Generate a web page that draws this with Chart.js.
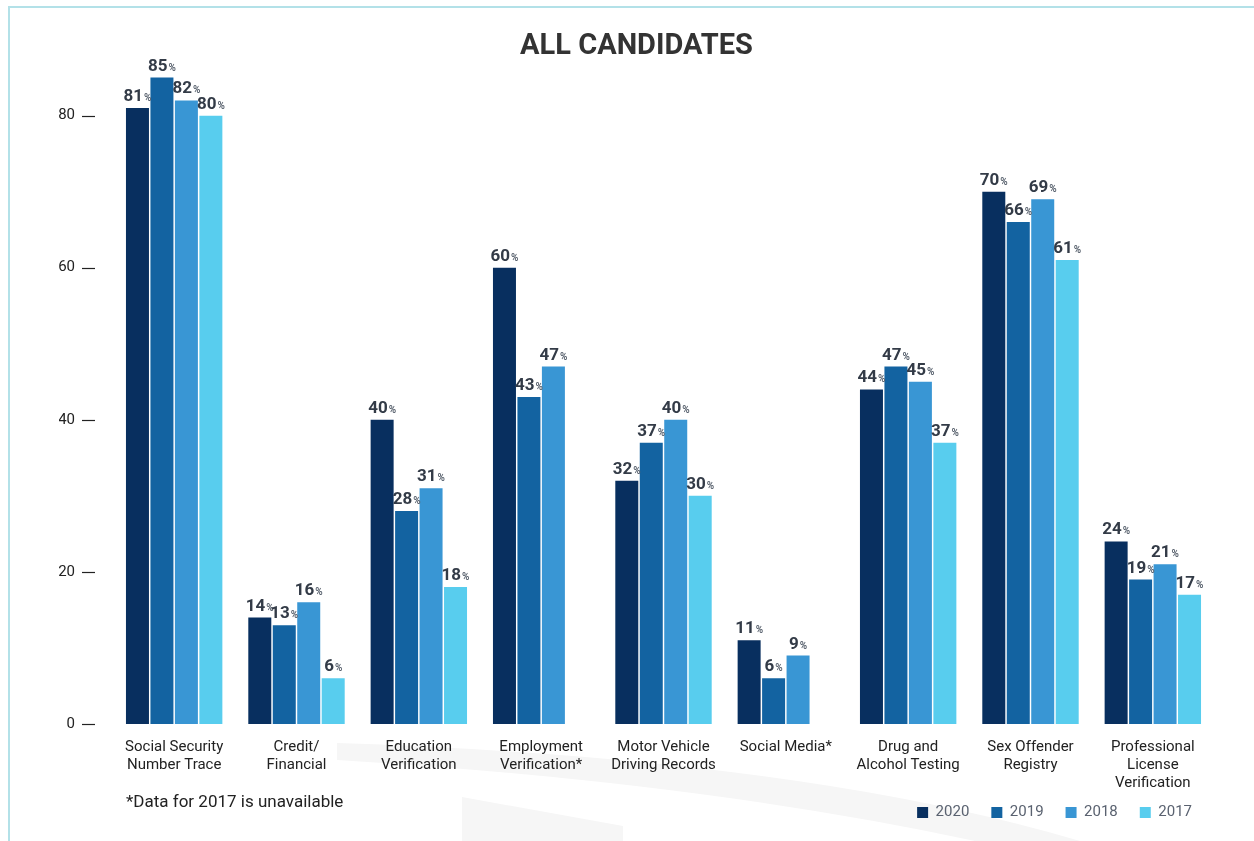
<!DOCTYPE html>
<html>
<head>
<meta charset="utf-8">
<script src="https://cdn.jsdelivr.net/npm/chart.js@4/dist/chart.umd.min.js"></script>
<style>
  html, body { margin: 0; padding: 0; background: #fff; }
  #frame {
    position: absolute; left: 8px; top: 6px; right: 0; bottom: 0;
    border-left: 2px solid #b3e1e8; border-top: 2px solid #b3e1e8;
  }
  #swoosh { position: absolute; left: 0; top: 0; }
  #wrap { position: absolute; left: 0; top: 0; width: 1254px; height: 841px; }
  #note {
    position: absolute; left: 126px; top: 791px;
    font: 17px Roboto, sans-serif; color: #222;
  }
</style>
</head>
<body>
<div id="frame"></div>
<svg id="swoosh" width="1254" height="841">
  <path d="M337,743 Q800,758 1080,841 L975,841 Q700,782 337,760 Z" fill="#f6f6f6"/>
  <path d="M462,797 L623,826 L623,841 L462,841 Z" fill="#f6f6f6"/>
</svg>
<div id="wrap"><canvas id="chartCanvas"></canvas></div>
<div id="note">*Data for 2017 is unavailable</div>
<script>
// values, in percent
const categories = [
  ['Social Security', 'Number Trace'],
  ['Credit/', 'Financial'],
  ['Education', 'Verification'],
  ['Employment', 'Verification*'],
  ['Motor Vehicle', 'Driving Records'],
  ['Social Media*'],
  ['Drug and', 'Alcohol Testing'],
  ['Sex Offender', 'Registry'],
  ['Professional', 'License', 'Verification']
];
const years = ['2020', '2019', '2018', '2017'];
const values2020 = [81, 14, 40, 60, 32, 11, 44, 70, 24];
const values2019 = [85, 13, 28, 43, 37, 6, 47, 66, 19];
const values2018 = [82, 16, 31, 47, 40, 9, 45, 69, 21];
const values2017 = [80, 6, 18, null, 30, null, 37, 61, 17];
const yTicks = [0, 20, 40, 60, 80];

const colors = ['#082f5f', '#1363a1', '#3996d4', '#58cdee'];

// number + small "%" above each bar
const barLabels = {
  id: 'barLabels',
  afterDatasetsDraw(chart) {
    const ctx = chart.ctx;
    ctx.save();
    ctx.textBaseline = 'alphabetic';
    ctx.textAlign = 'left';
    chart.data.datasets.forEach((ds, i) => {
      const meta = chart.getDatasetMeta(i);
      meta.data.forEach((bar, j) => {
        const v = ds.data[j];
        if (v === null || v === undefined) return;
        const num = String(v);
        ctx.font = 'bold 17px Roboto, sans-serif';
        const w1 = ctx.measureText(num).width;
        ctx.font = 'bold 10px Roboto, sans-serif';
        const w2 = ctx.measureText('%').width;
        const x0 = bar.x - (w1 + w2 + 1) / 2;
        const y = bar.y - 7;
        ctx.font = 'bold 17px Roboto, sans-serif';
        ctx.fillStyle = '#333b47';
        ctx.fillText(num, x0, y);
        ctx.font = 'bold 10px Roboto, sans-serif';
        ctx.fillStyle = '#5b6470';
        ctx.fillText('%', x0 + w1 + 1, y);
      });
    });
    ctx.restore();
  }
};

// short dashes to the right of the y tick labels
const yDashes = {
  id: 'yDashes',
  afterDraw(chart) {
    const y = chart.scales.y;
    const ctx = chart.ctx;
    ctx.save();
    ctx.strokeStyle = '#222';
    ctx.lineWidth = 1.2;
    y.ticks.forEach(t => {
      const py = Math.round(y.getPixelForValue(t.value)) + 0.5;
      ctx.beginPath();
      ctx.moveTo(y.right - 31, py);
      ctx.lineTo(y.right - 18, py);
      ctx.stroke();
    });
    ctx.restore();
  }
};

// the x axis box is kept short so the legend sits close; let its labels spill below it
const labelSpill = {
  id: 'labelSpill',
  afterLayout(chart) { chart.scales.x.bottom += 30; }
};

const ctx = document.getElementById('chartCanvas').getContext('2d');
const myChart = new Chart(ctx, {
  type: 'bar',
  data: {
    labels: categories,
    datasets: [values2020, values2019, values2018, values2017].map((d, i) => ({
      label: years[i],
      data: d,
      backgroundColor: colors[i],
      borderWidth: 0,
      categoryPercentage: 0.8,
      barPercentage: 0.94
    }))
  },
  options: {
    responsive: true,
    maintainAspectRatio: false,
    animation: false,
    layout: { padding: { left: 59, right: 40, top: 0, bottom: 11 } },
    plugins: {
      title: {
        display: true,
        text: 'ALL CANDIDATES',
        color: '#333',
        font: { family: 'Roboto', size: 29, weight: 'bold' },
        padding: { top: 29, bottom: 10 }
      },
      legend: {
        position: 'bottom',
        align: 'end',
        labels: {
          boxWidth: 11,
          boxHeight: 11,
          padding: 22,
          color: '#5a6270',
          font: { family: 'Roboto', size: 15 }
        }
      },
      tooltip: { enabled: false }
    },
    scales: {
      x: {
        afterFit: s => { s.height = 59; },
        grid: { display: false, drawTicks: false },
        border: { display: false },
        ticks: {
          color: '#222',
          padding: 14,
          maxRotation: 0,
          autoSkip: false,
          font: { family: 'Roboto', size: 15, lineHeight: 1.2 }
        }
      },
      y: {
        min: 0,
        max: 85.5,
        afterFit: s => { s.width = 54; },
        afterBuildTicks: s => { s.ticks = yTicks.map(v => ({ value: v })); },
        grid: { display: false, drawTicks: false },
        border: { display: false },
        ticks: {
          color: '#222',
          padding: 38,
          font: { family: 'Roboto', size: 15 }
        }
      }
    }
  },
  plugins: [barLabels, yDashes, labelSpill]
});
</script>
</body>
</html>
